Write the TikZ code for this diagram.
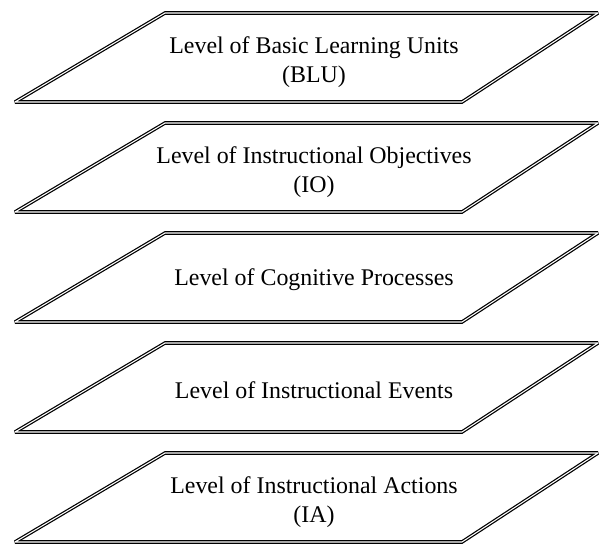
\documentclass[tikz,border=0pt]{standalone}
\usepackage{fontspec}
\setmainfont{Liberation Serif}
\usepackage{tikz}
\tikzset{plane/.style = {double, line width = 0.7pt, double distance = 0.6pt, line join = miter, miter limit = 2.5}}
\tikzset{lbl/.style = {align = center, inner sep = 0, font = \fontsize{13.6}{16.4}\selectfont}}

\begin{document}
\begin{tikzpicture}[x = 0.02cm, y = -0.02cm]
          \useasboundingbox (0, 0) rectangle (600, 545);
          \draw [plane] (165, 13) -- (598, 13) -- (462, 102) -- (15, 102) -- cycle;
          \draw [plane] (165, 123) -- (598, 123) -- (462, 212) -- (15, 212) -- cycle;
          \draw [plane] (165, 233) -- (598, 233) -- (462, 322) -- (15, 322) -- cycle;
          \draw [plane] (165, 343) -- (598, 343) -- (462, 432) -- (15, 432) -- cycle;
          \draw [plane] (165, 453) -- (598, 453) -- (462, 542) -- (15, 542) -- cycle;
          \node (blu) at (314, 62) [lbl] {Level of Basic Learning Units\\(BLU)};
          \node (io) at (314, 172) [lbl] {Level of Instructional Objectives\\(IO)};
          \node (cp) at (314, 280) [lbl] {Level of Cognitive Processes};
          \node (ie) at (314, 390) [lbl] {Level of Instructional Events};
          \node (ia) at (314, 502) [lbl] {Level of Instructional Actions\\(IA)};
        \end{tikzpicture}
\end{document}
